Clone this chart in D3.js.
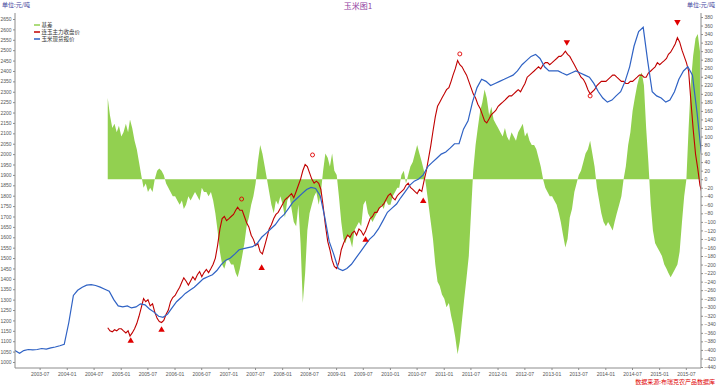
<!DOCTYPE html>
<html>
<head>
<meta charset="utf-8">
<script src="https://cdn.jsdelivr.net/npm/d3@7"></script>
<style>
body { margin: 0; background: #fff; }
svg text { font-family: "Liberation Sans", Arial, sans-serif; }
svg .cn { font-family: "Noto Sans CJK SC", "Noto Sans", sans-serif; }
</style>
</head>
<body>
<div id="chart"></div>
<script>
// spot price (元/吨), monthly from 2003-01
var spotStart = [2003, 1];
var spotPrice = [
    1055, 1042, 1055, 1060, 1058, 1060, 1065, 1062, 1068, 1072, 1078, 1085,
    1190, 1320, 1345, 1360, 1370, 1372, 1368, 1360, 1350, 1340, 1300, 1270,
    1265, 1270, 1260, 1265, 1280, 1275, 1255, 1240, 1220, 1215, 1230, 1260,
    1290, 1310, 1330, 1345, 1360, 1380, 1400, 1410, 1420, 1440, 1470, 1490,
    1500, 1520, 1540, 1545, 1550, 1555, 1570, 1600, 1620, 1640, 1660, 1690,
    1710, 1740, 1770, 1790, 1810, 1830, 1840, 1835, 1800, 1700, 1580, 1520,
    1450, 1440, 1450, 1470, 1500, 1530, 1560, 1590, 1610, 1640, 1680, 1720,
    1740, 1760, 1790, 1820, 1850, 1870, 1880, 1900, 1940, 1960, 1980, 2000,
    2010, 2030, 2050, 2050, 2120, 2160, 2250, 2320, 2360, 2350, 2330, 2340,
    2350, 2360, 2370, 2380, 2400, 2430, 2450, 2470, 2480, 2460, 2420, 2400,
    2400, 2400, 2390, 2380, 2390, 2400, 2390, 2380, 2370, 2340, 2300, 2270,
    2250, 2260, 2280, 2300, 2350, 2420, 2520, 2590, 2610, 2450, 2300, 2280,
    2270, 2250, 2260, 2300, 2360, 2400, 2420, 2380, 2200, 2000
];

// Dalian main contract close, two readings a month (5th, 20th) from 2004-10
var futStart = [2004, 10];
var futPrice = [
    1165, 1150, 1145, 1155, 1150, 1160,
    1160, 1150, 1140, 1150, 1125, 1140, 1160, 1185, 1220, 1260, 1305, 1290,
    1300, 1270, 1280, 1240, 1210, 1195, 1190, 1200, 1230, 1250, 1290, 1310,
    1320, 1340, 1360, 1385, 1405, 1390, 1370, 1390, 1410, 1395, 1420, 1435,
    1410, 1430, 1445, 1430, 1450, 1470, 1500, 1560, 1640, 1690, 1700, 1680,
    1690, 1700, 1710, 1730, 1745, 1730, 1730, 1700, 1670, 1650, 1610, 1590,
    1560, 1570, 1530, 1520, 1560, 1600, 1640, 1660, 1690, 1710, 1720, 1740,
    1760, 1780, 1790, 1800, 1810, 1790, 1820, 1850, 1880, 1920, 1950, 1940,
    1910, 1880, 1860, 1870, 1860, 1830, 1750, 1660, 1580, 1540, 1490, 1460,
    1450, 1480, 1540, 1570, 1590, 1610, 1600, 1620, 1630, 1610, 1640, 1630,
    1610, 1630, 1660, 1690, 1700, 1720, 1720, 1740, 1750, 1760, 1780, 1800,
    1810, 1790, 1780, 1800, 1810, 1820, 1830, 1850, 1860, 1840, 1830, 1820,
    1810, 1830, 1820, 1870, 1920, 1980, 2040, 2110, 2180, 2230, 2250, 2270,
    2290, 2310, 2320, 2350, 2380, 2410, 2450, 2430, 2420, 2400, 2380, 2350,
    2320, 2290, 2270, 2240, 2220, 2190, 2160, 2150, 2170, 2190, 2200, 2210,
    2230, 2240, 2250, 2260, 2270, 2280, 2280, 2290, 2300, 2310, 2300, 2320,
    2340, 2370, 2380, 2390, 2400, 2410, 2420, 2410, 2430, 2440, 2440, 2430,
    2440, 2450, 2460, 2470, 2470, 2480, 2495, 2480, 2470, 2450, 2430, 2410,
    2390, 2370, 2360, 2340, 2310, 2290, 2300, 2310, 2330, 2340, 2350, 2350,
    2350, 2360, 2370, 2380, 2380, 2370, 2360, 2350, 2350, 2340, 2340, 2350,
    2350, 2360, 2370, 2380, 2380, 2370, 2370, 2390, 2400, 2410, 2420, 2440,
    2430, 2440, 2450, 2460, 2480, 2490, 2510, 2530, 2560, 2540, 2500, 2470,
    2440, 2400, 2250, 2120, 2000, 1930, 1850, 1810
];

// basis (元/吨), two readings a month (5th, 20th) from 2004-10
var basisStart = [2004, 10];
var basis = [
    190, 150, 120, 130, 110, 125,
    100, 110, 130, 110, 140, 120, 90, 70, 40, 10, -20, -10,
    -30, -20, -30, 0, 20, 25, 20, 10, -10, -20, -30, -40,
    -40, -50, -60, -50, -70, -60, -40, -50, -40, -30, -40, -50,
    -20, -30, -30, -40, -30, -50, -80, -120, -170, -200, -210, -190,
    -190, -200, -200, -220, -230, -210, -180, -150, -110, -90, -60, -40,
    -10, 40, 80, 60, 30, 0, -30, -60, -80, -50, -60, -40,
    -60, -90, -50, -40, -70, -100, -110, -60, -150, -290, -220, -120,
    -80, -60, -40, -30, -60, -30, 20, 60, 50, 30, 60, 20,
    10, -40, -100, -140, -150, -130, -140, -160, -120, -110, -100, -110,
    -60, -50, -80, -90, -100, -90, -80, -70, -60, -70, -50, -60,
    -60, -40, -30, -20, -20, 10, 20, -10, 10, 30, 40, 60,
    80, 60, 40, 20, -20, -60, -100, -140, -200, -240, -250, -270,
    -280, -300, -290, -320, -340, -370, -410, -380, -330, -280, -230, -180,
    -80, 20, 80, 120, 160, 180, 210, 190, 150, 170, 140, 130,
    120, 110, 100, 120, 100, 90, 110, 100, 90, 110, 120, 130,
    100, 110, 90, 80, 80, 70, 50, 30, 0, -20, -30, -40,
    -40, -50, -60, -80, -100, -130, -160, -140, -90, -70, -30, -10,
    10, 20, 40, 60, 70, 90, 60, 30, -20, -50, -80, -100,
    -110, -100, -110, -120, -100, -80, -60, -40, 0, 30, 80, 110,
    160, 190, 220, 240, 250, 220, 120, 40, -60, -120, -150, -160,
    -170, -180, -200, -210, -220, -230, -220, -210, -200, -170, -100, -40,
    0, 120, 230, 290, 330, 340, 300
];

// annotation marks [date, price]
var upMarks = [["2005-03-10", 1101], ["2005-10-05", 1154], ["2007-08-15", 1452], ["2009-07-20", 1587], ["2010-08-15", 1774]];
var downMarks = [["2013-04-15", 2539], ["2015-05-05", 2636]];
var ringMarks = [["2007-04-01", 1784], ["2008-07-25", 1996], ["2011-04-20", 2482], ["2013-09-20", 2280]];

var leftTicks = d3.range(1000, 2651, 50);
var rightTicks = d3.range(-440, 381, 20);
var legendNames = ["基差", "连玉主力收盘价", "玉米现货报价"];
var colors = ["#92d050", "#c00000", "#2f62c4"];

var width = 717, height = 385;
var plotLeft = 15, plotRight = 701, plotTop = 13, plotBottom = 368;

function monthly(start, values) {
    return values.map(function (v, i) {
	return { date: new Date(start[0], start[1] - 1 + i, 15), value: v };
    });
}

function twiceMonthly(start, values) {
    return values.map(function (v, i) {
	return { date: new Date(start[0], start[1] - 1 + Math.floor(i / 2), i % 2 ? 20 : 5), value: v };
    });
}

var spot = monthly(spotStart, spotPrice);
var fut = twiceMonthly(futStart, futPrice);
var bas = twiceMonthly(basisStart, basis);

var svg = d3.select("#chart").append("svg")
	.attr("width", width)
	.attr("height", height);

var x = d3.scaleTime()
	.domain([new Date(2003, 0, 15), new Date(2015, 9, 12)])
	.range([plotLeft, plotRight]);
var yL = d3.scaleLinear().domain([1000, 2650]).range([362, 19]);
var yR = d3.scaleLinear().domain([-440, 380]).range([367, 17]);

svg.append("clipPath").attr("id", "plot")
    .append("rect")
    .attr("x", plotLeft).attr("y", plotTop)
    .attr("width", plotRight - plotLeft).attr("height", plotBottom - plotTop);

var plot = svg.append("g").attr("clip-path", "url(#plot)");

// basis area
plot.append("path")
    .datum(bas)
    .attr("fill", colors[0])
    .attr("d", d3.area()
	  .x(function (d) { return x(d.date); })
	  .y0(yR(0))
	  .y1(function (d) { return yR(d.value); }));

var priceLine = d3.line()
	.x(function (d) { return x(d.date); })
	.y(function (d) { return yL(d.value); });

plot.append("path")
    .datum(fut)
    .attr("fill", "none")
    .attr("stroke", colors[1])
    .attr("stroke-width", 1.1)
    .attr("d", priceLine);

plot.append("path")
    .datum(spot)
    .attr("fill", "none")
    .attr("stroke", colors[2])
    .attr("stroke-width", 1.2)
    .attr("d", priceLine);

// marks
var parse = d3.timeParse("%Y-%m-%d");
var tri = d3.symbol().type(d3.symbolTriangle).size(18);
svg.selectAll(".up").data(upMarks).enter().append("path")
    .attr("fill", "#e00000")
    .attr("d", tri)
    .attr("transform", function (d) { return "translate(" + x(parse(d[0])) + "," + yL(d[1]) + ")"; });
svg.selectAll(".down").data(downMarks).enter().append("path")
    .attr("fill", "#e00000")
    .attr("d", tri)
    .attr("transform", function (d) { return "translate(" + x(parse(d[0])) + "," + yL(d[1]) + ")rotate(180)"; });
svg.selectAll(".ring").data(ringMarks).enter().append("circle")
    .attr("fill", "none")
    .attr("stroke", "#e00000")
    .attr("stroke-width", 0.9)
    .attr("r", 2)
    .attr("cx", function (d) { return x(parse(d[0])); })
    .attr("cy", function (d) { return yL(d[1]); });

// axes
var axisColor = "#8c8c8c", labelColor = "#555";

svg.append("line")
    .attr("x1", plotLeft).attr("x2", plotLeft)
    .attr("y1", plotTop).attr("y2", plotBottom)
    .attr("stroke", axisColor);
svg.append("line")
    .attr("x1", plotRight).attr("x2", plotRight)
    .attr("y1", plotTop).attr("y2", plotBottom)
    .attr("stroke", axisColor);
svg.append("line")
    .attr("x1", plotLeft).attr("x2", plotRight)
    .attr("y1", plotBottom).attr("y2", plotBottom)
    .attr("stroke", axisColor);

var gl = svg.append("g")
	.attr("transform", "translate(" + plotLeft + ",0)")
	.call(d3.axisLeft(yL).tickValues(leftTicks).tickFormat(d3.format("d")).tickSize(2).tickPadding(1.5));
var gr = svg.append("g")
	.attr("transform", "translate(" + plotRight + ",0)")
	.call(d3.axisRight(yR).tickValues(rightTicks).tickFormat(d3.format("d")).tickSize(2).tickPadding(1.5));

var xTicks = d3.timeMonth.every(6).range(new Date(2003, 6, 1), new Date(2015, 7, 1));
var gx = svg.append("g")
	.attr("transform", "translate(0," + plotBottom + ")")
	.call(d3.axisBottom(x).tickValues(xTicks).tickFormat(d3.timeFormat("%Y-%m")).tickSize(2).tickPadding(2));

[gl, gr, gx].forEach(function (g) {
    g.select(".domain").remove();
    g.selectAll(".tick line").attr("stroke", axisColor);
    g.selectAll(".tick text").attr("fill", labelColor).style("font-size", "5px");
});

// titles and notes
svg.append("text").attr("class", "cn")
    .attr("x", 358).attr("y", 9)
    .attr("text-anchor", "middle")
    .attr("fill", "#8e3d9e")
    .style("font-size", "8px")
    .text("玉米图1");
svg.append("text").attr("class", "cn")
    .attr("x", 2).attr("y", 7)
    .attr("fill", "#3b3b9a")
    .style("font-size", "6px")
    .text("单位:元/吨");
svg.append("text").attr("class", "cn")
    .attr("x", 715).attr("y", 7)
    .attr("text-anchor", "end")
    .attr("fill", "#3b3b9a")
    .style("font-size", "6px")
    .text("单位:元/吨");
svg.append("text").attr("class", "cn")
    .attr("x", 715).attr("y", 384)
    .attr("text-anchor", "end")
    .attr("fill", "#e00000")
    .style("font-size", "6px")
    .text("数据来源:布瑞克农产品数据库");

// legend
var legend = svg.selectAll(".legend").data(legendNames).enter().append("g")
	.attr("transform", function (d, i) { return "translate(34," + (25 + i * 7) + ")"; });
legend.append("line")
    .attr("x1", 0).attr("x2", 6)
    .attr("stroke", function (d, i) { return colors[i]; })
    .attr("stroke-width", 1.5);
legend.append("text").attr("class", "cn")
    .attr("x", 7.5).attr("y", 2)
    .attr("fill", "#333")
    .style("font-size", "5.5px")
    .text(function (d) { return d; });
</script>
</body>
</html>
